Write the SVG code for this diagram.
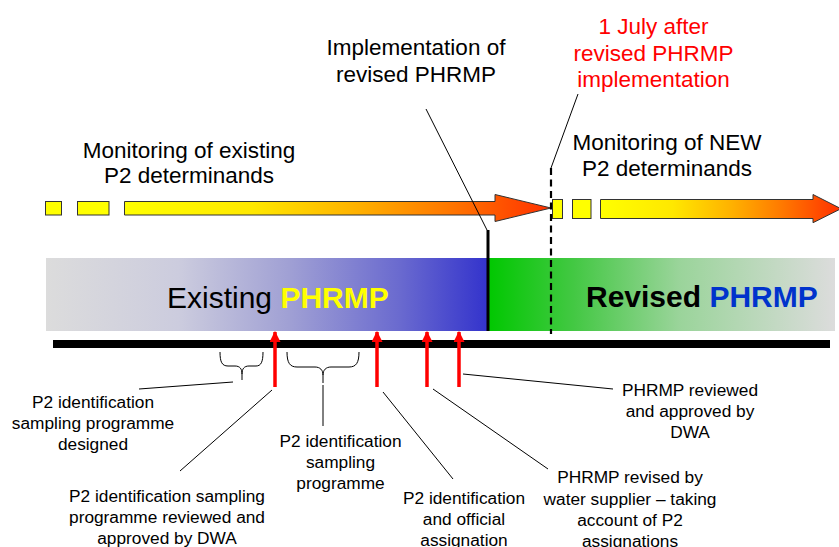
<svg xmlns="http://www.w3.org/2000/svg" width="839" height="547" viewBox="0 0 839 547">
<style>
text{font-family:"Liberation Sans",Arial,sans-serif;fill:#000}
.t22{font-size:22.5px}
.t17{font-size:17.3px}
.mid{text-anchor:middle}
.lead{stroke:#000;stroke-width:1;fill:none}
.box{fill:#FFFF00;stroke:#333;stroke-width:1}
.arr{stroke:#333;stroke-width:1}
.red{stroke:#FF0000;stroke-width:3.5;fill:none}
.brace{stroke:#000;stroke-width:1;fill:none}
</style>
<defs>
<linearGradient id="gArrow" x1="0" y1="0" x2="1" y2="0">
<stop offset="0" stop-color="#FFFF00"/>
<stop offset="0.3" stop-color="#FFE800"/>
<stop offset="0.55" stop-color="#FFB000"/>
<stop offset="0.75" stop-color="#FF7A00"/>
<stop offset="1" stop-color="#FF3000"/>
</linearGradient>
<linearGradient id="gExist" x1="0" y1="0" x2="1" y2="0">
<stop offset="0" stop-color="#DCDCDC"/>
<stop offset="0.3" stop-color="#CCCCDE"/>
<stop offset="0.55" stop-color="#A0A0D4"/>
<stop offset="0.8" stop-color="#6A6ACF"/>
<stop offset="1" stop-color="#3333CC"/>
</linearGradient>
<linearGradient id="gRev" x1="0" y1="0" x2="1" y2="0">
<stop offset="0" stop-color="#00C800"/>
<stop offset="0.25" stop-color="#44C844"/>
<stop offset="0.55" stop-color="#9AD49A"/>
<stop offset="1" stop-color="#DCDCDC"/>
</linearGradient>
<marker id="redHead" viewBox="0 0 10 10" refX="9" refY="5" markerUnits="userSpaceOnUse" markerWidth="11" markerHeight="11" orient="auto">
<path d="M0,0 L10,5 L0,10 z" fill="#FF0000"/>
</marker>
</defs>

<g id="band-existing">
<rect x="46" y="258" width="442" height="73" fill="url(#gExist)"/>
<text x="167" y="308" style="font-size:30px">Existing <tspan style="font-weight:bold;fill:#FFFF00">PHRMP</tspan></text>
</g>
<g id="band-revised">
<rect x="488" y="258" width="347" height="73" fill="url(#gRev)"/>
<text x="586" y="307" style="font-size:30px;font-weight:bold">Revised <tspan style="fill:#0033CC">PHRMP</tspan></text>
</g>

<g id="timeline">
<rect x="53" y="340" width="777" height="8" fill="#000"/>
</g>

<g id="monitoring-existing">
<rect class="box" x="45.5" y="201.5" width="16" height="13.5"/>
<rect class="box" x="77.5" y="201.5" width="31.5" height="13.5"/>
<polygon class="arr" fill="url(#gArrow)" points="124.5,201.5 495,201.5 495,194.5 551,208 495,221.5 495,215 124.5,215"/>
<text class="t22 mid" x="189" y="157.5">Monitoring of existing</text>
<text class="t22 mid" x="189" y="183">P2 determinands</text>
</g>

<g id="monitoring-new">
<rect class="box" x="552.5" y="199.5" width="10" height="19"/>
<rect class="box" x="572.5" y="199.5" width="18.5" height="19"/>
<polygon class="arr" fill="url(#gArrow)" points="600.5,199.5 813,199.5 813,194.5 841,208.7 813,222.7 813,218.5 600.5,218.5"/>
<text class="t22 mid" x="667" y="149.5">Monitoring of NEW</text>
<text class="t22 mid" x="667" y="175.5">P2 determinands</text>
</g>

<g id="implementation">
<text class="t22 mid" x="416" y="55">Implementation of</text>
<text class="t22 mid" x="416" y="81.5">revised PHRMP</text>
</g>

<g id="july">
<text class="t22 mid" x="653.5" y="33.5" style="fill:#FF0000">1 July after</text>
<text class="t22 mid" x="653.5" y="60.5" style="fill:#FF0000">revised PHRMP</text>
<text class="t22 mid" x="653.5" y="87" style="fill:#FF0000">implementation</text>
</g>

<g id="label-designed">
<text class="t17 mid" x="93" y="407.5">P2 identification</text>
<text class="t17 mid" x="93" y="428.5">sampling programme</text>
<text class="t17 mid" x="93" y="449.5">designed</text>
</g>
<g id="label-reviewed-dwa">
<text class="t17 mid" x="167" y="502">P2 identification sampling</text>
<text class="t17 mid" x="167" y="523">programme reviewed and</text>
<text class="t17 mid" x="167" y="544">approved by DWA</text>
</g>
<g id="label-programme">
<text class="t17 mid" x="340.5" y="447">P2 identification</text>
<text class="t17 mid" x="340.5" y="468">sampling</text>
<text class="t17 mid" x="340.5" y="489">programme</text>
</g>
<g id="label-assignation">
<text class="t17 mid" x="464" y="504">P2 identification</text>
<text class="t17 mid" x="464" y="525">and official</text>
<text class="t17 mid" x="464" y="546">assignation</text>
</g>
<g id="label-revised-supplier">
<text class="t17 mid" x="630" y="483">PHRMP revised by</text>
<text class="t17 mid" x="630" y="504.5">water supplier – taking</text>
<text class="t17 mid" x="630" y="526">account of P2</text>
<text class="t17 mid" x="630" y="547">assignations</text>
</g>
<g id="label-phrmp-dwa">
<text class="t17 mid" x="690" y="395.5">PHRMP reviewed</text>
<text class="t17 mid" x="690" y="416.5">and approved by</text>
<text class="t17 mid" x="690" y="437.5">DWA</text>
</g>

<g id="connectors">
<line x1="488" y1="230" x2="488" y2="331" stroke="#000" stroke-width="3"/>
<line x1="551" y1="168" x2="551" y2="334" stroke="#000" stroke-width="2.2" stroke-dasharray="7,4.5"/>
<line class="lead" x1="426" y1="109" x2="487" y2="230"/>
<line class="lead" x1="578" y1="94" x2="551" y2="168"/>
<line class="red" x1="275" y1="387" x2="275" y2="332" marker-end="url(#redHead)"/>
<line class="red" x1="377" y1="387" x2="377" y2="332" marker-end="url(#redHead)"/>
<line class="red" x1="427" y1="387" x2="427" y2="332" marker-end="url(#redHead)"/>
<line class="red" x1="459" y1="387" x2="459" y2="332" marker-end="url(#redHead)"/>
<path class="brace" d="M220,352 C220,362 222,366 228,366 L235,366 C240,366 242,369 242,374 L242,380 M242,374 C242,369 244,366 249,366 L256,366 C261,366 263,362 263,352"/>
<path class="brace" d="M287,352 C287,363 290,367 297,367 L315,367 C320,367 323,370 323,375 L323,383 M323,375 C323,370 326,367 331,367 L349,367 C356,367 359,363 359,352"/>
<line class="lead" x1="139" y1="389" x2="233" y2="382"/>
<line class="lead" x1="272" y1="390" x2="180" y2="471"/>
<line class="lead" x1="323" y1="385" x2="323" y2="426"/>
<line class="lead" x1="383" y1="392" x2="453" y2="479"/>
<line class="lead" x1="433" y1="389" x2="548" y2="469"/>
<line class="lead" x1="463" y1="374" x2="613" y2="389"/>
</g>
</svg>
